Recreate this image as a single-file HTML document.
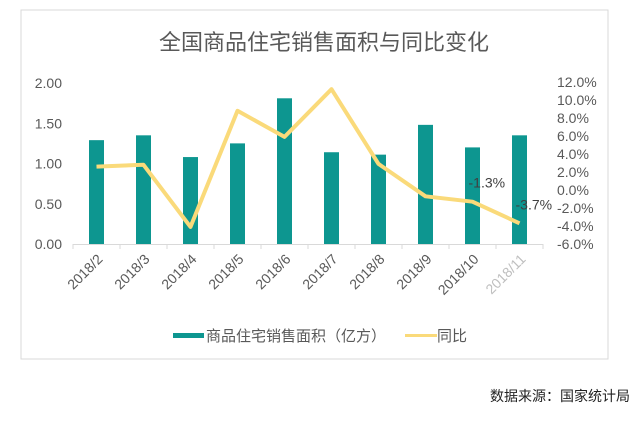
<!DOCTYPE html>
<html><head><meta charset="utf-8">
<style>
body{margin:0;background:#fff;width:641px;height:419px;overflow:hidden;font-family:"Liberation Sans","Noto Sans CJK SC",sans-serif;}
</style></head>
<body>
<svg width="641" height="419" xmlns="http://www.w3.org/2000/svg">
<rect x="21" y="10" width="587" height="349" fill="#fff" stroke="#d9d9d9" stroke-width="1"/>
<text x="324" y="50" text-anchor="middle" font-size="22" fill="#595959" font-family="Liberation Sans, Noto Sans CJK SC, sans-serif">全国商品住宅销售面积与同比变化</text>
<g id="g"></g>
<g>
<rect x="173" y="333" width="31" height="5" fill="#0d9690"/>
<text x="206" y="341" font-size="15" fill="#595959" font-family="Liberation Sans, Noto Sans CJK SC, sans-serif">商品住宅销售面积（亿方）</text>
<line x1="405" y1="335.5" x2="437" y2="335.5" stroke="#fada7a" stroke-width="3"/>
<text x="437" y="341" font-size="15" fill="#595959" font-family="Liberation Sans, Noto Sans CJK SC, sans-serif">同比</text>
</g>
<text x="630" y="401" text-anchor="end" font-size="14" fill="#222" font-family="Liberation Sans, Noto Sans CJK SC, sans-serif">数据来源：国家统计局</text>
</svg>
<script>
const categories=["2018/2","2018/3","2018/4","2018/5","2018/6","2018/7","2018/8","2018/9","2018/10","2018/11"];
const areaValues=[1.29,1.35,1.08,1.25,1.81,1.14,1.11,1.48,1.20,1.35];
const yoyValues=[2.6,2.8,-4.1,8.8,5.9,11.2,2.9,-0.7,-1.3,-3.7];
const leftTicks=[0,0.5,1,1.5,2];
const rightTicks=[-6,-4,-2,0,2,4,6,8,10,12];
const NS="http://www.w3.org/2000/svg";
const g=document.getElementById('g');
const X0=73,X1=543,band=(X1-X0)/categories.length;
const xC=i=>X0+band*(i+0.5);
const yL=v=>244-v*80.5;
const yR=p=>244-(p+6)*9;
function mk(t,a,p){const e=document.createElementNS(NS,t);for(const k in a)e.setAttribute(k,a[k]);(p||g).appendChild(e);return e;}
const F="Liberation Sans, Noto Sans CJK SC, sans-serif";
leftTicks.forEach(v=>{const t=mk('text',{x:62,y:yL(v)+5,'text-anchor':'end','font-size':14,fill:'#595959','font-family':F});


t.textContent=v.toFixed(2);});
rightTicks.forEach(v=>{const t=mk('text',{x:557,y:yR(v)+5,'font-size':14,fill:'#595959','font-family':F});


t.textContent=v.toFixed(1)+'%';});
categories.forEach((c,i)=>{const b=mk('rect',{x:xC(i)-7.5,y:yL(areaValues[i]),width:15,height:244-yL(areaValues[i]),fill:'#0d9690'});


const t=mk('text',{x:xC(i)+7,y:260,'text-anchor':'end','font-size':14,fill:i===9?'#bfbfbf':'#595959','font-family':F,transform:`rotate(-45 ${xC(i)+7} 260)`});


t.textContent=c;});
const ax=mk('line',{x1:X0,y1:244.5,x2:X1,y2:244.5,stroke:'#d9d9d9'});


for(let i=0;i<=categories.length;i++){const tk=mk('line',{x1:X0+band*i,y1:244,x2:X0+band*i,y2:249,stroke:'#d9d9d9'});

}
const pl=mk('polyline',{points:yoyValues.map((v,i)=>xC(i)+','+yR(v)).join(' '),fill:'none',stroke:'#fada7a','stroke-width':4,'stroke-linejoin':'round'});


[8,9].forEach(i=>{const t=mk('text',{x:xC(i)-4,y:yR(yoyValues[i])-14,'font-size':14,fill:'#404040','font-family':F});


t.textContent=yoyValues[i].toFixed(1)+'%';});
</script>
</body></html>
